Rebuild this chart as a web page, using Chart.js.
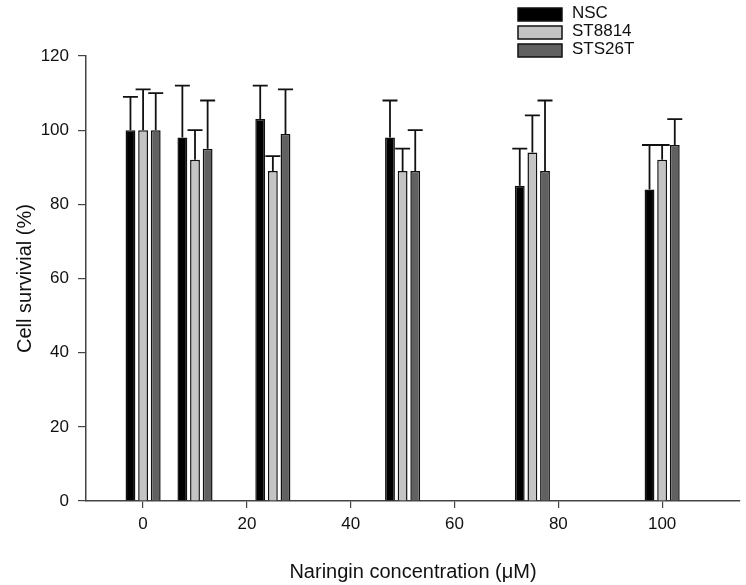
<!DOCTYPE html>
<html>
<head>
<meta charset="utf-8">
<script src="https://cdn.jsdelivr.net/npm/chart.js@4/dist/chart.umd.min.js"></script>
<style>
  html, body { margin: 0; padding: 0; background: #fff; }
  #wrap { width: 746px; height: 585px; }
</style>
</head>
<body>
<div id="wrap"><canvas id="c" width="746" height="585"></canvas></div>
<script>
// ---- data ----
const concentrations = [0, 10, 25, 50, 75, 100];
const seriesNames = ['NSC', 'ST8814', 'STS26T'];
const nscValues    = [100, 98, 103, 98, 85, 84];
const nscErrors    = [9, 14, 9, 10, 10, 12];
const st8814Values = [100, 92, 89, 89, 94, 92];
const st8814Errors = [11, 8, 4, 6, 10, 4];
const sts26tValues = [100, 95, 99, 89, 89, 96];
const sts26tErrors = [10, 13, 12, 11, 19, 7];
const xTickValues = [0, 20, 40, 60, 80, 100];
const yTickValues = [0, 20, 40, 60, 80, 100, 120];
const xAxisTitle = 'Naringin concentration (\u03BCM)';
const yAxisTitle = 'Cell survivial (%)';

const FONT = 'Arial, "Liberation Sans", sans-serif';
const colors = ['#000000', '#c4c4c4', '#616161'];

function makeDataset(label, values, errors, color) {
  return {
    label: label,
    data: concentrations.map((c, i) => ({ x: c, y: values[i] })),
    errors: errors,
    backgroundColor: color,
    borderColor: '#111',
    borderWidth: 1.5,
    borderSkipped: 'bottom',
    categoryPercentage: 0.73,
    barPercentage: 0.78
  };
}

const errorBarPlugin = {
  id: 'errorBars',
  afterDatasetsDraw(chart) {
    const ctx = chart.ctx;
    const yScale = chart.scales.y;
    ctx.save();
    ctx.strokeStyle = '#111';
    ctx.lineWidth = 1.8;
    chart.data.datasets.forEach((ds, di) => {
      const meta = chart.getDatasetMeta(di);
      meta.data.forEach((el, i) => {
        const v = ds.data[i].y;
        const top = yScale.getPixelForValue(v + ds.errors[i]);
        const x = el.x;
        ctx.beginPath();
        ctx.moveTo(x, el.y);
        ctx.lineTo(x, top);
        ctx.moveTo(x - 7.5, top);
        ctx.lineTo(x + 7.5, top);
        ctx.stroke();
      });
    });
    ctx.restore();
  }
};

const legendPlugin = {
  id: 'boxLegend',
  afterDraw(chart) {
    const ctx = chart.ctx;
    ctx.save();
    chart.data.datasets.forEach((ds, i) => {
      const x = 518, y = 8 + i * 18, w = 44, h = 13;
      ctx.fillStyle = ds.backgroundColor;
      ctx.fillRect(x, y, w, h);
      ctx.lineWidth = 1.5;
      ctx.strokeStyle = '#111';
      ctx.strokeRect(x, y, w, h);
      ctx.fillStyle = '#111';
      ctx.font = '17px ' + FONT;
      ctx.textBaseline = 'middle';
      ctx.textAlign = 'left';
      ctx.fillText(ds.label, 572, y + h / 2 - 1.5);
    });
    ctx.restore();
  }
};

new Chart(document.getElementById('c'), {
  type: 'bar',
  data: {
    datasets: [
      makeDataset(seriesNames[0], nscValues, nscErrors, colors[0]),
      makeDataset(seriesNames[1], st8814Values, st8814Errors, colors[1]),
      makeDataset(seriesNames[2], sts26tValues, sts26tErrors, colors[2])
    ]
  },
  options: {
    responsive: false,
    animation: false,
    devicePixelRatio: 1,
    layout: { padding: { left: 0, top: 56, right: 6, bottom: 0 } },
    plugins: { legend: { display: false }, tooltip: { enabled: false } },
    scales: {
      x: {
        type: 'linear',
        offset: false,
        min: -11,
        max: 115,
        afterBuildTicks: (s) => { s.ticks = xTickValues.map(v => ({ value: v })); },
        afterFit: (s) => { s.height = 84; },
        grid: { display: true, offset: false, drawOnChartArea: false, drawTicks: true, tickLength: 7, color: '#444', lineWidth: 1.2 },
        border: { display: true, color: '#444', width: 1.5 },
        ticks: { color: '#111', font: { family: FONT, size: 17 }, padding: 6, maxRotation: 0 },
        title: { display: true, text: xAxisTitle, color: '#111', font: { family: FONT, size: 20 }, padding: { top: 0, bottom: 1 } }
      },
      y: {
        min: 0,
        max: 120,
        afterBuildTicks: (s) => { s.ticks = yTickValues.map(v => ({ value: v })); },
        afterFit: (s) => { s.width = 86; },
        grid: { display: true, drawOnChartArea: false, drawTicks: true, tickLength: 8, color: '#444', lineWidth: 1.2 },
        border: { display: true, color: '#444', width: 1.5 },
        ticks: { color: '#111', font: { family: FONT, size: 17 }, padding: 9 },
        title: { display: true, text: yAxisTitle, color: '#111', font: { family: FONT, size: 20 }, padding: { top: 13, bottom: 0 } }
      }
    }
  },
  plugins: [errorBarPlugin, legendPlugin]
});
</script>
</body>
</html>
